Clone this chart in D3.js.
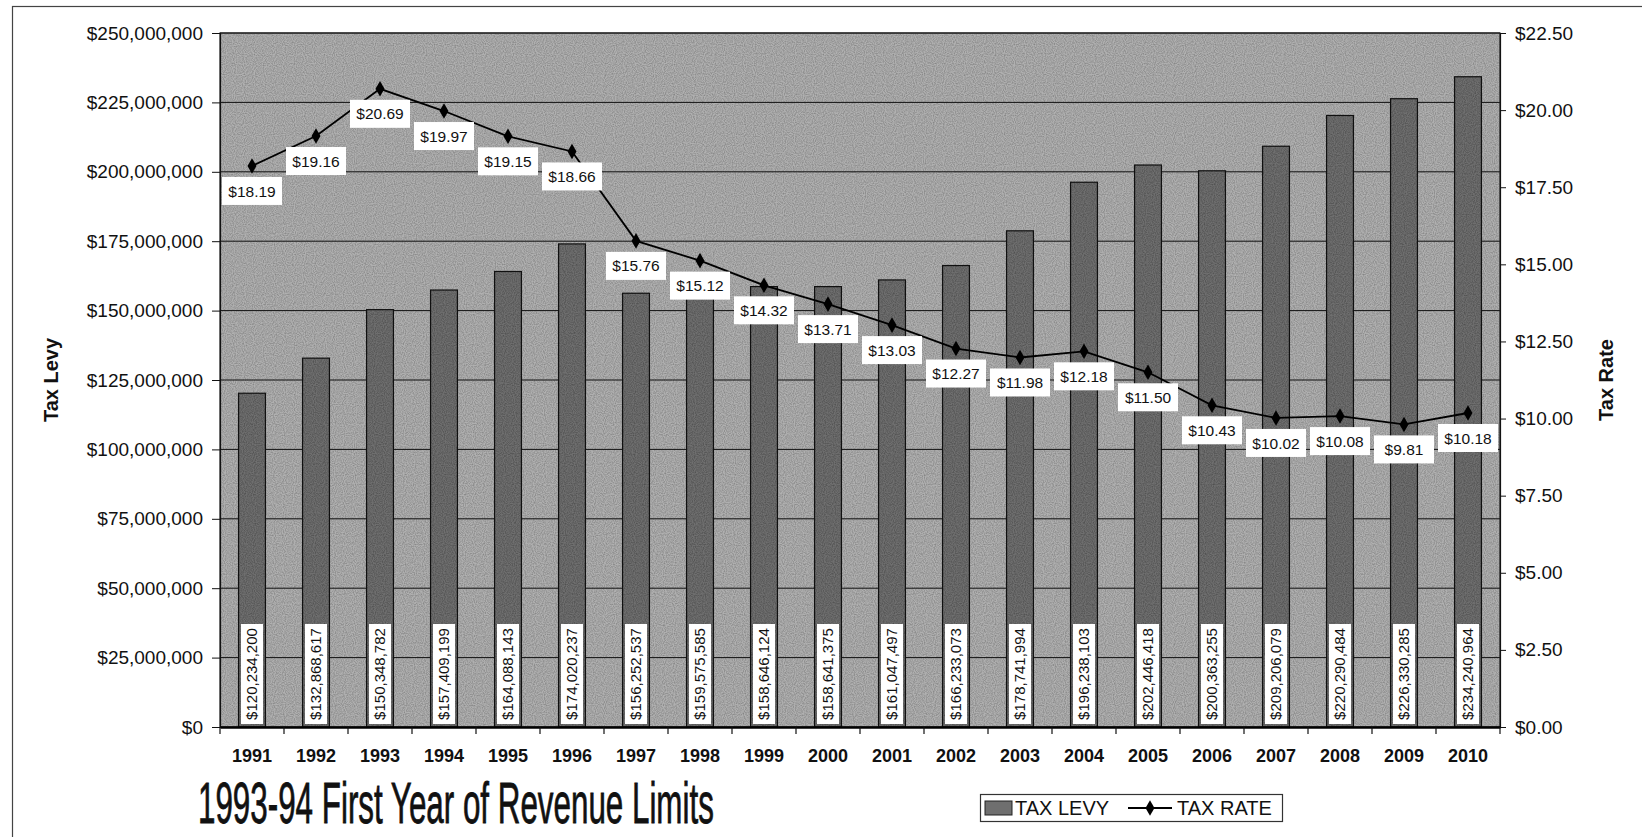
<!DOCTYPE html>
<html>
<head>
<meta charset="utf-8">
<script src="https://cdn.jsdelivr.net/npm/d3@7/dist/d3.min.js"></script>
<style>
  body { margin: 0; background: #fff; }
  svg { display: block; font-family: "Liberation Sans", Arial, sans-serif; }
</style>
</head>
<body>
<div id="chart"></div>
<script>
// data
var years = ["1991", "1992", "1993", "1994", "1995", "1996", "1997", "1998", "1999", "2000",
             "2001", "2002", "2003", "2004", "2005", "2006", "2007", "2008", "2009", "2010"];
var taxLevy = [120234200, 132868617, 150348782, 157409199, 164088143, 174020237, 156252537, 159575585,
               158646124, 158641375, 161047497, 166233073, 178741994, 196238103, 202446418, 200363255,
               209206079, 220290484, 226330285, 234240964];
var taxRate = [18.19, 19.16, 20.69, 19.97, 19.15, 18.66, 15.76, 15.12, 14.32, 13.71,
               13.03, 12.27, 11.98, 12.18, 11.50, 10.43, 10.02, 10.08, 9.81, 10.18];
var levyTicks = d3.range(0, 250000001, 25000000);
var rateTicks = d3.range(0, 22.51, 2.5);
var chartTitle = "1993-94 First Year of Revenue Limits";
var legendNames = ["TAX LEVY", "TAX RATE"];

var W = 1642, H = 837;
var plot = { left: 220, right: 1500, top: 33, bottom: 727 };

var data = years.map((y, i) => ({ year: y, levy: taxLevy[i], rate: taxRate[i] }));

const svg = d3.select("#chart").append("svg")
    .attr("width", W)
    .attr("height", H);

// speckle filter to imitate the dithered print
const defs = svg.append("defs");
const f = defs.append("filter").attr("id", "speckle")
    .attr("x", 0).attr("y", 0).attr("width", 1).attr("height", 1);
f.append("feTurbulence").attr("type", "fractalNoise").attr("baseFrequency", 0.9)
    .attr("numOctaves", 1).attr("seed", 3).attr("result", "noise");
f.append("feColorMatrix").attr("in", "noise").attr("type", "matrix")
    .attr("values", "0 0 0 0 0  0 0 0 0 0  0 0 0 0 0  1.6 0 0 0 -0.55").attr("result", "dots");
f.append("feComposite").attr("in", "dots").attr("in2", "SourceGraphic").attr("operator", "in");

var x = d3.scaleBand().domain(years).range([plot.left, plot.right])
    .paddingInner(0.58).paddingOuter(0.29);
var xStep = d3.scaleBand().domain(years).range([plot.left, plot.right]);
var yL = d3.scaleLinear().domain([0, 250000000]).range([plot.bottom, plot.top]);
var yR = d3.scaleLinear().domain([0, 22.5]).range([plot.bottom, plot.top]);
var cx = d => x(d.year) + x.bandwidth() / 2;

// outer frame
svg.append("rect")
    .attr("x", 12.5).attr("y", 6.5)
    .attr("width", W + 20).attr("height", H + 20)
    .attr("fill", "none").attr("stroke", "#444").attr("stroke-width", 1.2);

// plot background
svg.append("rect")
    .attr("x", plot.left).attr("y", plot.top)
    .attr("width", plot.right - plot.left).attr("height", plot.bottom - plot.top)
    .attr("fill", "#b0b0b0");
svg.append("rect")
    .attr("x", plot.left).attr("y", plot.top)
    .attr("width", plot.right - plot.left).attr("height", plot.bottom - plot.top)
    .attr("fill", "#000").attr("filter", "url(#speckle)").attr("opacity", 0.3);

// gridlines
svg.append("g").selectAll("line")
    .data(levyTicks.slice(1))
    .enter().append("line")
    .attr("x1", plot.left).attr("x2", plot.right)
    .attr("y1", d => yL(d)).attr("y2", d => yL(d))
    .attr("stroke", "#111").attr("stroke-width", 1);

// bars
const bars = svg.append("g");
bars.selectAll("rect.bar")
    .data(data)
    .enter().append("rect")
    .attr("class", "bar")
    .attr("x", d => x(d.year))
    .attr("y", d => yL(d.levy))
    .attr("width", x.bandwidth())
    .attr("height", d => plot.bottom - yL(d.levy))
    .attr("fill", "#6f6f6f")
    .attr("stroke", "#111").attr("stroke-width", 1.2);
bars.selectAll("rect.barnoise")
    .data(data)
    .enter().append("rect")
    .attr("class", "barnoise")
    .attr("x", d => x(d.year))
    .attr("y", d => yL(d.levy))
    .attr("width", x.bandwidth())
    .attr("height", d => plot.bottom - yL(d.levy))
    .attr("fill", "#000").attr("filter", "url(#speckle)").attr("opacity", 0.35);

// plot border
svg.append("rect")
    .attr("x", plot.left).attr("y", plot.top)
    .attr("width", plot.right - plot.left).attr("height", plot.bottom - plot.top)
    .attr("fill", "none").attr("stroke", "#222").attr("stroke-width", 1.2);

// left axis
const axL = svg.append("g")
    .attr("transform", `translate(${plot.left},0)`)
    .call(d3.axisLeft(yL).tickValues(levyTicks).tickFormat(d3.format("$,.0f"))
        .tickSize(8).tickPadding(9));
// right axis
const axR = svg.append("g")
    .attr("transform", `translate(${plot.right},0)`)
    .call(d3.axisRight(yR).tickValues(rateTicks).tickFormat(d3.format("$.2f"))
        .tickSize(6).tickPadding(9));
[axL, axR].forEach(a => {
    a.select(".domain").attr("stroke", "#111").attr("stroke-width", 1.2);
    a.selectAll(".tick line").attr("stroke", "#111");
    a.selectAll("text").attr("font-size", 19).attr("fill", "#111")
        .attr("font-family", "Liberation Sans, Arial, sans-serif");
});

// bottom axis: labels at centers, ticks at band edges
const axB = svg.append("g")
    .attr("transform", `translate(0,${plot.bottom})`)
    .call(d3.axisBottom(x).tickSize(0).tickPadding(22));
axB.select(".domain").attr("stroke", "#000").attr("stroke-width", 2.5);
axB.selectAll("text").attr("font-size", 18).attr("font-weight", "bold").attr("fill", "#111")
    .attr("font-family", "Liberation Sans, Arial, sans-serif");
svg.append("g").selectAll("line")
    .data(years.map(y => xStep(y)).concat([plot.right]))
    .enter().append("line")
    .attr("x1", d => d).attr("x2", d => d)
    .attr("y1", plot.bottom).attr("y2", plot.bottom + 7)
    .attr("stroke", "#111").attr("stroke-width", 1.2);

// tax rate line
const line = d3.line().x(cx).y(d => yR(d.rate));
svg.append("path")
    .datum(data)
    .attr("d", line)
    .attr("fill", "none").attr("stroke", "#000").attr("stroke-width", 1.8);
const diamond = d3.symbol().type(d3.symbolDiamond).size(70);
svg.append("g").selectAll("path")
    .data(data)
    .enter().append("path")
    .attr("d", diamond)
    .attr("transform", d => `translate(${cx(d)},${yR(d.rate)})`)
    .attr("fill", "#000");

// bar value labels (rotated, white boxes at the base)
const fmtLevy = d3.format("$,");
const bl = svg.append("g").selectAll("g")
    .data(data)
    .enter().append("g")
    .attr("transform", d => `translate(${cx(d)},${plot.bottom - 53}) rotate(-90)`);
bl.append("rect")
    .attr("x", -50).attr("y", -11)
    .attr("width", 100).attr("height", 22)
    .attr("fill", "#fff");
bl.append("text")
    .attr("text-anchor", "middle")
    .attr("dy", "0.36em")
    .attr("font-size", 15)
    .attr("fill", "#111")
    .text(d => fmtLevy(d.levy));

// rate labels below each point
const fmtRate = d3.format("$.2f");
const rl = svg.append("g").selectAll("g")
    .data(data)
    .enter().append("g")
    .attr("transform", d => `translate(${cx(d)},${yR(d.rate) + 25})`);
rl.append("rect")
    .attr("x", -30).attr("y", -14)
    .attr("width", 60).attr("height", 28)
    .attr("fill", "#fff");
rl.append("text")
    .attr("text-anchor", "middle")
    .attr("dy", "0.36em")
    .attr("font-size", 15.5)
    .attr("fill", "#111")
    .text(d => fmtRate(d.rate));

// axis titles
svg.append("text")
    .attr("transform", `translate(58,${(plot.top + plot.bottom) / 2}) rotate(-90)`)
    .attr("text-anchor", "middle")
    .attr("font-size", 20).attr("font-weight", "bold").attr("fill", "#111")
    .text("Tax Levy");
svg.append("text")
    .attr("transform", `translate(1613,${(plot.top + plot.bottom) / 2}) rotate(-90)`)
    .attr("text-anchor", "middle")
    .attr("font-size", 20).attr("font-weight", "bold").attr("fill", "#111")
    .text("Tax Rate");

// big caption, squeezed horizontally to look like a narrow face
const cap = svg.append("text")
    .attr("font-size", 58)
    .attr("font-family", "Liberation Sans Narrow, Arial Narrow, Liberation Sans, sans-serif")
    .attr("fill", "#111")
    .attr("stroke", "#111").attr("stroke-width", 0.8)
    .text(chartTitle);
const capW = cap.node().getComputedTextLength();
cap.attr("transform", `translate(198,823) scale(${516 / capW},1)`);

// legend
const lg = svg.append("g").attr("transform", "translate(980,794)");
lg.append("rect")
    .attr("x", 0.5).attr("y", 0.5).attr("width", 302).attr("height", 27)
    .attr("fill", "#fff").attr("stroke", "#333").attr("stroke-width", 1.2);
lg.append("rect")
    .attr("x", 5).attr("y", 7).attr("width", 27).attr("height", 14)
    .attr("fill", "#6f6f6f").attr("stroke", "#222");
lg.append("text")
    .attr("x", 35).attr("y", 21)
    .attr("font-size", 20).attr("fill", "#111")
    .text(legendNames[0]);
lg.append("line")
    .attr("x1", 148).attr("x2", 192).attr("y1", 14).attr("y2", 14)
    .attr("stroke", "#000").attr("stroke-width", 1.8);
lg.append("path")
    .attr("d", diamond)
    .attr("transform", "translate(170,14)")
    .attr("fill", "#000");
lg.append("text")
    .attr("x", 197).attr("y", 21)
    .attr("font-size", 20).attr("fill", "#111")
    .text(legendNames[1]);
</script>
</body>
</html>
